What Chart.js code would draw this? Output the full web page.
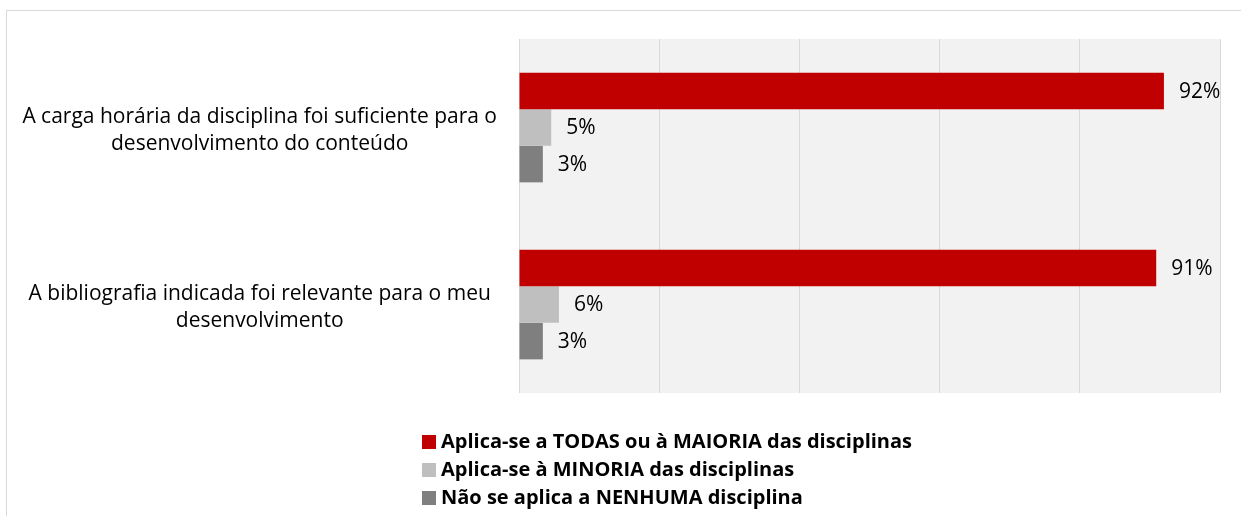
<!DOCTYPE html>
<html>
<head>
<meta charset="utf-8">
<script src="https://cdn.jsdelivr.net/npm/chart.js@4/dist/chart.umd.min.js"></script>
<style>
  html, body { margin: 0; padding: 0; background: #fff; }
  body { width: 1241px; height: 516px; position: relative; overflow: hidden; font-family: "Open Sans", sans-serif; }
  #frame { position: absolute; left: 6px; top: 10px; width: 1400px; height: 700px; border: 1px solid #d9d9d9; box-sizing: border-box; }
  #wrap { position: absolute; left: 0; top: 0; width: 1241px; height: 516px; }
  #legend { position: absolute; left: 422px; top: 427px; font-weight: bold; font-size: 20px; color: #000; }
  #legend div { height: 28px; line-height: 28px; white-space: nowrap; }
  #legend span { display: inline-block; width: 14px; height: 14px; margin-right: 5px; vertical-align: -1px; }
</style>
</head>
<body>
<div id="frame"></div>
<div id="wrap"><canvas id="chart"></canvas></div>
<div id="legend"></div>
<script>
// categories and series (bar lengths estimated, labels rounded)
const categories = [
  ['A carga horária da disciplina foi suficiente para o', 'desenvolvimento do conteúdo'],
  ['A bibliografia indicada foi relevante para o meu', 'desenvolvimento']
];
const seriesNames = [
  'Aplica-se a TODAS ou à MAIORIA das disciplinas',
  'Aplica-se à MINORIA das disciplinas',
  'Não se aplica a NENHUMA disciplina'
];
const todasMaioria = [92.0, 90.9];
const minoria = [4.6, 5.7];
const nenhuma = [3.4, 3.4];
const seriesColors = ['#c00000', '#bfbfbf', '#7f7f7f'];

const FONT = '"Open Sans", sans-serif';

// grey plot background
const plotBg = {
  id: 'plotBg',
  beforeDraw(chart) {
    const a = chart.chartArea, ctx = chart.ctx;
    ctx.save();
    ctx.fillStyle = '#f2f2f2';
    ctx.fillRect(a.left, a.top, a.right - a.left, a.bottom - a.top);
    ctx.restore();
  }
};

// percentage labels after each bar
const valueLabels = {
  id: 'valueLabels',
  afterDatasetsDraw(chart) {
    const ctx = chart.ctx;
    ctx.save();
    ctx.font = '21px ' + FONT;
    ctx.fillStyle = '#000';
    ctx.textAlign = 'left';
    ctx.textBaseline = 'middle';
    chart.data.datasets.forEach((ds, i) => {
      chart.getDatasetMeta(i).data.forEach((bar, j) => {
        ctx.fillText(Math.round(ds.data[j]) + '%', bar.x + 15, bar.y + 1);
      });
    });
    ctx.restore();
  }
};

const chart = new Chart(document.getElementById('chart'), {
  type: 'bar',
  data: {
    labels: categories,
    datasets: [
      { label: seriesNames[0], data: todasMaioria, backgroundColor: seriesColors[0] },
      { label: seriesNames[1], data: minoria, backgroundColor: seriesColors[1] },
      { label: seriesNames[2], data: nenhuma, backgroundColor: seriesColors[2] }
    ]
  },
  options: {
    indexAxis: 'y',
    responsive: true,
    maintainAspectRatio: false,
    animation: false,
    layout: { padding: { left: 0, right: 21, top: 39, bottom: 123 } },
    datasets: { bar: { categoryPercentage: 0.62, barPercentage: 1.0 } },
    scales: {
      x: {
        min: 0, max: 100,
        ticks: { display: false, stepSize: 20 },
        grid: { color: '#d9d9d9', drawTicks: false },
        border: { display: false }
      },
      y: {
        afterFit(scale) {
          scale.width = 519;
          scale.paddingTop = 0;
          scale.paddingBottom = 0;
        },
        ticks: {
          crossAlign: 'center',
          padding: 22,
          labelOffset: 3,
          color: '#000',
          font: { family: FONT, size: 21, lineHeight: 1.3 }
        },
        grid: { display: false, drawTicks: false },
        border: { display: false }
      }
    },
    plugins: {
      legend: { display: false },
      tooltip: { enabled: false }
    }
  },
  plugins: [plotBg, valueLabels]
});

// legend as a vertical list, built from the datasets
const legendEl = document.getElementById('legend');
chart.data.datasets.forEach(ds => {
  const row = document.createElement('div');
  const box = document.createElement('span');
  box.style.background = ds.backgroundColor;
  row.appendChild(box);
  row.appendChild(document.createTextNode(ds.label));
  legendEl.appendChild(row);
});
</script>
</body>
</html>
